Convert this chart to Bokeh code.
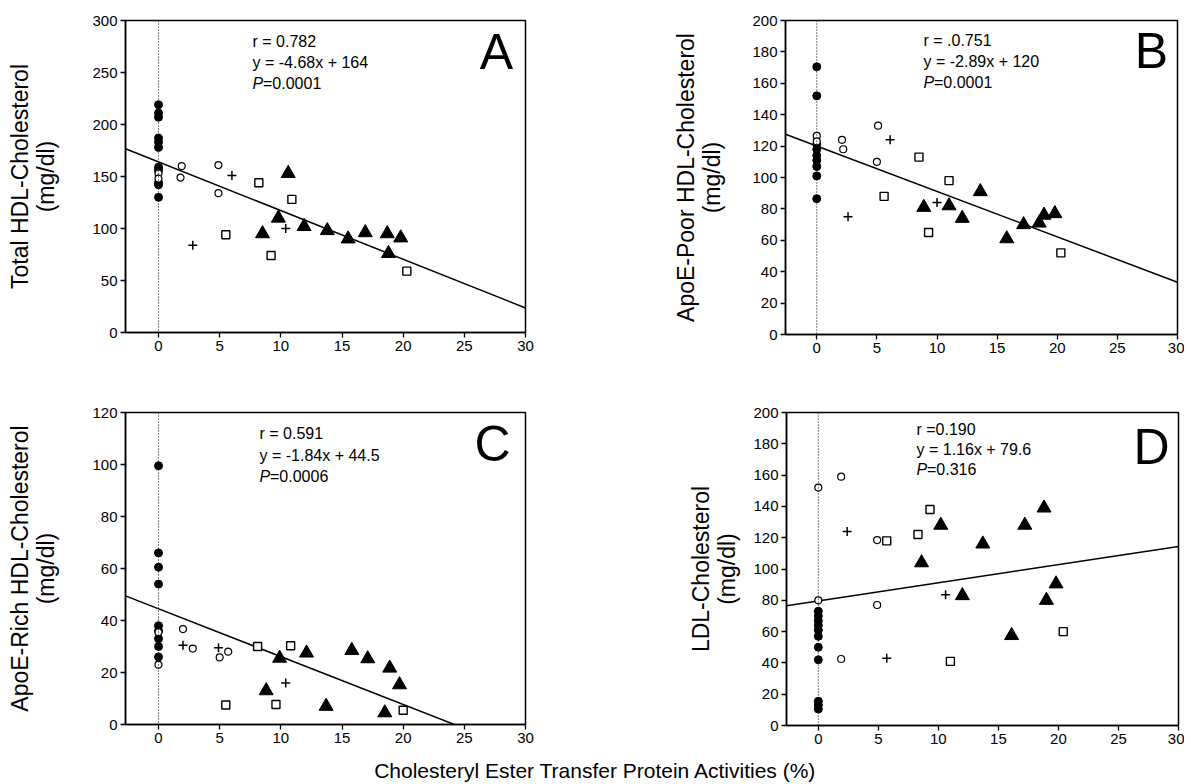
from bokeh.plotting import figure
from bokeh.models import Range1d, FixedTicker, Span, Label
from bokeh.layouts import column, row
from bokeh.embed import file_html
from bokeh.resources import INLINE
import numpy as np

FONT = "Liberation Sans"

# ---------------- data ----------------
x_ticks = [0, 5, 10, 15, 20, 25, 30]

# Panel A: Total HDL-Cholesterol
A_fc_y = [219, 211, 207, 187, 183, 178, 159, 156, 144, 142, 130]
A_oc_x = [0, 0, 1.9, 1.8, 4.9, 4.9]
A_oc_y = [153, 148, 160, 149, 161, 134]
A_pl_x = [6.0, 2.8, 10.4]
A_pl_y = [151, 84, 100]
A_sq_x = [8.2, 5.5, 9.2, 10.9, 20.3]
A_sq_y = [144, 94, 74, 128, 59]
A_tr_x = [10.6, 8.5, 9.8, 11.9, 13.8, 15.5, 16.9, 18.7, 19.8, 18.8]
A_tr_y = [153, 95, 110, 102, 98, 90, 96, 95, 91, 76]

# Panel B: ApoE-Poor HDL-Cholesterol
B_fc_y = [170.5, 152, 121, 118, 114, 111, 107, 101, 86.5]
B_oc_x = [0, 0, 2.1, 2.2, 5.1, 5.0]
B_oc_y = [126.5, 123, 124, 118, 133, 110]
B_pl_x = [6.1, 2.6, 10.0]
B_pl_y = [124, 75, 84]
B_sq_x = [5.6, 8.5, 11.0, 9.3, 20.3]
B_sq_y = [88, 113, 98, 65, 52]
B_tr_x = [8.9, 11.0, 12.1, 13.6, 15.8, 17.2, 18.5, 18.9, 19.8]
B_tr_y = [81, 82, 74, 91, 61, 70, 71, 76, 77]

# Panel C: ApoE-Rich HDL-Cholesterol
C_fc_y = [99.5, 66, 60.5, 54, 38, 36, 33, 30, 26]
C_oc_x = [0, 0, 2.0, 2.8, 5.0, 5.7]
C_oc_y = [35.5, 23, 36.7, 29.2, 25.8, 28]
C_pl_x = [2.0, 4.9, 10.4]
C_pl_y = [30.5, 29.5, 16]
C_sq_x = [5.5, 8.1, 9.6, 10.8, 20.0]
C_sq_y = [7.5, 30, 7.7, 30.3, 5.5]
C_tr_x = [9.9, 12.1, 8.8, 13.7, 15.8, 17.1, 18.9, 19.7, 18.5]
C_tr_y = [25.5, 27.5, 13, 7, 28.5, 25.3, 21.7, 15.3, 4.5]

# Panel D: LDL-Cholesterol
D_fc_y = [73, 70, 67, 64, 61, 57, 50, 42, 15.5, 13, 10.5]
D_oc_x = [0, 0, 1.9, 4.9, 4.9, 1.9]
D_oc_y = [152, 80, 159, 118.5, 77, 42.5]
D_pl_x = [2.4, 10.6, 5.7]
D_pl_y = [124, 83.5, 43]
D_sq_x = [5.7, 8.3, 9.3, 11.0, 20.4]
D_sq_y = [118, 122, 138, 41, 60]
D_tr_x = [10.2, 8.6, 13.7, 17.2, 18.8, 12.0, 19.8, 19.0, 16.1]
D_tr_y = [128, 104, 116, 128, 139, 83, 90.5, 80, 57.5]

slopes = [-4.68, -2.89, -1.84, 1.16]
intercepts = [164, 120, 44.5, 79.6]
r_texts = ["r = 0.782", "r = .0.751", "r = 0.591", "r =0.190"]
eq_texts = ["y = -4.68x + 164", "y = -2.89x + 120", "y = -1.84x + 44.5", "y = 1.16x + 79.6"]
p_texts = ["=0.0001", "=0.0001", "=0.0006", "=0.316"]
letters = ["A", "B", "C", "D"]
y_labels = ["Total HDL-Cholesterol\n(mg/dl)", "ApoE-Poor HDL-Cholesterol\n(mg/dl)",
            "ApoE-Rich HDL-Cholesterol\n(mg/dl)", "LDL-Cholesterol\n(mg/dl)"]
y_max = [300, 200, 120, 200]
y_ticks = [list(range(0, 301, 50)), list(range(0, 201, 20)),
           list(range(0, 121, 20)), list(range(0, 201, 20))]
x_label = "Cholesteryl Ester Transfer Protein Activities (%)"

groups = [
    (A_fc_y, A_oc_x, A_oc_y, A_pl_x, A_pl_y, A_sq_x, A_sq_y, A_tr_x, A_tr_y),
    (B_fc_y, B_oc_x, B_oc_y, B_pl_x, B_pl_y, B_sq_x, B_sq_y, B_tr_x, B_tr_y),
    (C_fc_y, C_oc_x, C_oc_y, C_pl_x, C_pl_y, C_sq_x, C_sq_y, C_tr_x, C_tr_y),
    (D_fc_y, D_oc_x, D_oc_y, D_pl_x, D_pl_y, D_sq_x, D_sq_y, D_tr_x, D_tr_y),
]

# ---------------- layout ----------------
# (x0, x1, frame_w, frame_h, border l, r, t, b, text dx, text dys, letter dx, letter dy, label standoff)
geo = [
    (-2.7, 30, 400, 312, 125, 30, 20, 50, 127, (21, 42, 63), 371, 31, 30),
    (-2.6, 30, 392, 314, 230, 7, 18, 50, 138, (20, 41, 62), 366, 30, 24),
    (-2.7, 30, 400, 312, 125, 30, 30, 30, 134, (21, 43, 64), 367, 31, 30),
    (-2.65, 30, 392, 313, 231, 6, 29, 30, 130, (17, 37, 57), 365, 34, 10),
]


def style_axis(ax, ticks):
    ax.ticker = FixedTicker(ticks=ticks)
    ax.axis_line_width = 1.5
    ax.axis_line_color = "black"
    ax.major_tick_line_width = 1.3
    ax.major_tick_line_color = "black"
    ax.major_tick_out = 5
    ax.major_tick_in = 0
    ax.minor_tick_out = 0
    ax.minor_tick_in = 0
    ax.major_label_text_font = FONT
    ax.major_label_text_font_size = "15px"
    ax.major_label_text_color = "black"
    ax.major_label_standoff = 3


def make_panel(i):
    x0, x1, fw, fh, bl, br, bt, bb, tdx, tdys, ldx, ldy, lso = geo[i]
    ym = y_max[i]
    p = figure(frame_width=fw, frame_height=fh,
               x_range=Range1d(x0, x1), y_range=Range1d(0, ym),
               output_backend="svg", toolbar_location=None,
               min_border_left=bl, min_border_right=br,
               min_border_top=bt, min_border_bottom=bb)
    p.outline_line_color = "black"
    p.outline_line_width = 1.5
    p.xgrid.visible = False
    p.ygrid.visible = False
    p.background_fill_color = "white"
    p.border_fill_color = "white"

    style_axis(p.xaxis[0], x_ticks)
    style_axis(p.yaxis[0], y_ticks[i])
    ya = p.yaxis[0]
    ya.axis_label = y_labels[i]
    ya.axis_label_text_font = FONT
    ya.axis_label_text_font_size = "23px"
    ya.axis_label_text_font_style = "normal"
    ya.axis_label_text_color = "black"
    ya.axis_label_text_line_height = 1.0
    ya.axis_label_standoff = lso

    p.add_layout(Span(location=0, dimension="height", line_color="black",
                      line_width=1, line_dash="1 2"))

    xs = np.array([x0, x1])
    p.line(xs, slopes[i] * xs + intercepts[i], line_color="black", line_width=1.5)

    fc_y, oc_x, oc_y, pl_x, pl_y, sq_x, sq_y, tr_x, tr_y = groups[i]
    p.scatter([0] * len(fc_y), fc_y, marker="circle", size=8,
              fill_color="black", line_color="black")
    p.scatter(oc_x, oc_y, marker="circle", size=7, fill_color="white",
              line_color="black", line_width=1.2)
    p.scatter(pl_x, pl_y, marker="cross", size=9, line_color="black", line_width=1.5)
    p.scatter(sq_x, sq_y, marker="square", size=8, fill_color="white",
              line_color="black", line_width=1.4)
    p.scatter(tr_x, tr_y, marker="triangle", size=14, fill_color="black",
              line_color="black")

    def dx2x(dx):
        return x0 + dx / fw * (x1 - x0)

    def dy2y(dy):
        return ym - dy / fh * ym

    tx = dx2x(tdx)
    for txt, dy in zip([r_texts[i], eq_texts[i]], tdys[:2]):
        p.add_layout(Label(x=tx, y=dy2y(dy), text=txt, text_font=FONT,
                           text_font_size="16px", text_baseline="middle",
                           text_color="black"))
    p.add_layout(Label(x=tx, y=dy2y(tdys[2]), text="P", text_font=FONT,
                       text_font_size="16px", text_font_style="italic",
                       text_baseline="middle", text_color="black"))
    p.add_layout(Label(x=tx, y=dy2y(tdys[2]), x_offset=10.5, text=p_texts[i],
                       text_font=FONT, text_font_size="16px",
                       text_baseline="middle", text_color="black"))
    p.add_layout(Label(x=dx2x(ldx), y=dy2y(ldy), text=letters[i], text_font=FONT,
                       text_font_size="50px", text_align="center",
                       text_baseline="middle", text_color="black"))
    return p


pa, pb, pc, pd = [make_panel(i) for i in range(4)]

lab = figure(frame_width=1183, frame_height=30, x_range=Range1d(0, 1183),
             y_range=Range1d(0, 30), x_axis_type=None, y_axis_type=None,
             output_backend="svg", toolbar_location=None, min_border=0)
lab.outline_line_color = None
lab.add_layout(Label(x=595, y=14, text=x_label, text_font=FONT,
                     text_font_size="21px", text_align="center",
                     text_baseline="middle", text_color="black"))

layout = column(row(pa, pb), row(pc, pd), lab)
open("out.html", "w").write(file_html(layout, INLINE))
